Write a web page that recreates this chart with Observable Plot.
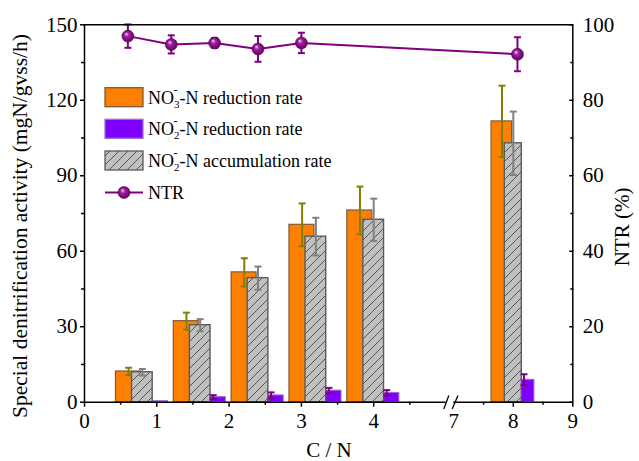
<!DOCTYPE html>
<html><head><meta charset="utf-8">
<script src="https://cdn.jsdelivr.net/npm/d3@7"></script>
<script src="https://cdn.jsdelivr.net/npm/@observablehq/plot@0.6"></script>
<style>
body{margin:0;background:#fff}
#chart{width:639px;height:461px}
</style>
</head><body><div id="chart"></div>
<script>
// ---- data ----
const groupX   = [0.8, 1.6, 2.4, 3.2, 4.0, 8.0];
const no3Rate  = [12.2, 32.2, 51.6, 70.5, 76.2, 111.6];
const no3Err   = [1.5, 3.4, 5.6, 8.5, 9.5, 14.2];
const accRate  = [11.9, 30.6, 49.3, 65.8, 72.5, 102.9];
const accErr   = [1.3, 2.4, 4.6, 7.5, 8.4, 12.6];
const no2Rate  = [0.4, 2.0, 2.7, 4.6, 3.7, 8.9];
const no2Err   = [0, 0.8, 1.2, 1.1, 1.1, 2.2];
const ntrX     = [0.6, 1.2, 1.8, 2.4, 3.0, 8.07];
const ntrVal   = [97.0, 94.8, 95.2, 93.6, 95.2, 92.2];
const ntrErr   = [3.1, 2.4, 1.3, 3.4, 2.7, 4.5];
const xTicks      = [0, 1, 2, 3, 4, 7, 8, 9];
const xTickMarks  = [0, 1, 2, 3, 4, 8, 9];
const xMinor      = [0.5, 1.5, 2.5, 3.5, 4.5, 7.5, 8.5];
const yTicks      = [0, 30, 60, 90, 120, 150];
const yMinor      = [15, 45, 75, 105, 135];
const ntrTicks    = [0, 20, 40, 60, 80, 100];
const ntrMinor    = [10, 30, 50, 70, 90];
const legendLabels = [
  {main: "NO", sub: "3", sup: "-", rest: "-N reduction rate"},
  {main: "NO", sub: "2", sup: "-", rest: "-N reduction rate"},
  {main: "NO", sub: "2", sup: "-", rest: "-N accumulation rate"},
  {main: "NTR"}
];
const xTitle = "C / N";
const yTitle = "Special denitrification activity (mgN/gvss/h)";
const y2Title = "NTR (%)";
const axisBreak = [[4.97, 5.72], [6.59, 7.07]];

// ---- style ----
const ORANGE = "#FF8000", VIOLET = "#8000FF", GRAYF = "#C0C0C0", NTRC = "#800080";
const K = 150 / 100;
const FONT = "Liberation Serif";

const rows = groupX.map((c, i) => ({c, no3: no3Rate[i], no3e: no3Err[i], acc: accRate[i], acce: accErr[i], no2: no2Rate[i], no2e: no2Err[i]}));
const ntrRows = ntrX.map((x, i) => ({x, v: ntrVal[i] * K, e: ntrErr[i] * K}));

const cap = {draw(ctx, size) { const r = Math.sqrt(size / Math.PI); ctx.moveTo(-r, 0); ctx.lineTo(r, 0); }};

function errBars(data, xf, vf, ef, color) {
  const d = data.filter(r => ef(r) > 0);
  return [
    Plot.ruleX(d, {x: xf, y1: r => vf(r) - ef(r), y2: r => vf(r) + ef(r), stroke: color, strokeWidth: 2}),
    Plot.dot(d, {x: xf, y: r => vf(r) - ef(r), symbol: cap, r: 3.5, stroke: color, strokeWidth: 2, fill: "none"}),
    Plot.dot(d, {x: xf, y: r => vf(r) + ef(r), symbol: cap, r: 3.5, stroke: color, strokeWidth: 2, fill: "none"})
  ];
}

const chart = Plot.plot({
  width: 639, height: 461,
  marginLeft: 84, marginRight: 66.7, marginTop: 24.3, marginBottom: 59.3,
  style: {fontFamily: FONT, fontSize: "21px", color: "#000", background: "#fff", overflow: "visible"},
  x: {type: "linear", domain: [0, 5, 7, 9], range: [84, 445.5, 453.3, 572.3]},
  y: {domain: [0, 150]},
  marks: [
    // bars
    Plot.rect(rows, {x1: d => d.c - 0.365, x2: d => d.c - 0.02, y1: 0, y2: "no3", fill: ORANGE, stroke: "#7d5a3c", strokeWidth: 1.2}),
    Plot.rect(rows, {x1: d => d.c + 0.02, x2: d => d.c + 0.355, y1: 0, y2: "no2", fill: VIOLET, stroke: "#9a70c8", strokeWidth: 1}),
    Plot.rect(rows, {x1: d => d.c - 0.143, x2: d => d.c + 0.143, y1: 0, y2: "acc", fill: "url(#hatchG)", stroke: "#5a5a5a", strokeWidth: 1.4}),
    ...errBars(rows, d => d.c - 0.19, d => d.no3, d => d.no3e, "#808000"),
    ...errBars(rows, d => d.c, d => d.acc, d => d.acce, "#808080"),
    ...errBars(rows, d => d.c + 0.18, d => d.no2, d => d.no2e, NTRC),
    // NTR
    Plot.line(ntrRows, {x: "x", y: "v", stroke: NTRC, strokeWidth: 2}),
    ...errBars(ntrRows, d => d.x, d => d.v, d => d.e, NTRC),
    Plot.dot(ntrRows, {x: "x", y: "v", r: 6, fill: "url(#sphereG)", stroke: "#5a005a", strokeWidth: 0.6}),
    // frame lines
    Plot.ruleX([0, 9], {stroke: "#000", strokeWidth: 1.5}),
    Plot.ruleY([150], {stroke: "#000", strokeWidth: 1.5}),
    Plot.ruleY([0], {x1: 0, x2: 5, stroke: "#000", strokeWidth: 1.5}),
    Plot.ruleY([0], {x1: 7, x2: 9, stroke: "#000", strokeWidth: 1.5}),
    Plot.link(axisBreak, {x1: d => d[0], x2: d => d[1], y1: -2.7, y2: 2.7, stroke: "#000", strokeWidth: 1.3}),
    // axes
    Plot.axisY({ticks: yTicks, anchor: "left", tickSize: 4, tickPadding: 3, fontSize: 21, strokeWidth: 1.5, label: null}),
    Plot.axisY({ticks: yMinor, anchor: "left", tickSize: 3, tickFormat: () => "", strokeWidth: 1.5, label: null}),
    Plot.axisY({ticks: ntrTicks.map(v => v * K), tickFormat: d => String(Math.round(d / K)), anchor: "right", tickSize: -4, tickPadding: 14, fontSize: 21, strokeWidth: 1.5, label: null}),
    Plot.axisY({ticks: ntrMinor.map(v => v * K), anchor: "right", tickSize: -3, tickFormat: () => "", strokeWidth: 1.5, label: null}),
    Plot.axisX({ticks: xTicks, anchor: "bottom", tickSize: 0, tickPadding: 11, fontSize: 21, label: null}),
    Plot.axisX({ticks: xTickMarks, anchor: "bottom", tickSize: 5, tickFormat: () => "", strokeWidth: 1.5, label: null}),
    Plot.axisX({ticks: xMinor, anchor: "bottom", tickSize: 3, tickFormat: () => "", strokeWidth: 1.5, label: null})
  ]
});

document.getElementById("chart").appendChild(chart);

// defs: hatch pattern and sphere gradient
const svg = d3.select(chart);
const defs = svg.insert("defs", ":first-child");
const pat = defs.append("pattern").attr("id", "hatchG").attr("patternUnits", "userSpaceOnUse").attr("width", 9).attr("height", 9);
pat.append("rect").attr("width", 9).attr("height", 9).attr("fill", GRAYF);
pat.append("path").attr("d", "M-2.25,2.25 l4.5,-4.5 M0,9 l9,-9 M6.75,11.25 l4.5,-4.5").attr("stroke", "#555").attr("stroke-width", 1);
const rg = defs.append("radialGradient").attr("id", "sphereG").attr("cx", "50%").attr("cy", "50%").attr("r", "55%").attr("fx", "35%").attr("fy", "30%");
rg.append("stop").attr("offset", "0%").attr("stop-color", "#f4d8f4");
rg.append("stop").attr("offset", "35%").attr("stop-color", "#a020a0");
rg.append("stop").attr("offset", "100%").attr("stop-color", "#5a005a");

// titles
svg.append("text").attr("transform", "translate(19,226) rotate(-90)").attr("text-anchor", "middle").attr("dy", "0.35em")
  .attr("font-family", FONT).attr("font-size", 21.5).attr("fill", "#000").text(yTitle);
svg.append("text").attr("transform", "translate(622,227) rotate(-90)").attr("text-anchor", "middle").attr("dy", "0.35em")
  .attr("font-family", FONT).attr("font-size", 21).attr("fill", "#000").text(y2Title);
svg.append("text").attr("x", 329).attr("y", 450).attr("text-anchor", "middle").attr("dy", "0.35em")
  .attr("font-family", FONT).attr("font-size", 21).attr("fill", "#000").text(xTitle);

// legend
const lg = svg.append("g").attr("font-family", FONT).attr("font-size", 18).attr("fill", "#000").attr("text-anchor", "start");
const rowsY = [97.2, 128.8, 160.5, 192.5];
const sw = [
  {fill: ORANGE, stroke: "#7d5a3c"},
  {fill: VIOLET, stroke: "#9a70c8"},
  {fill: "url(#hatchG)", stroke: "#5a5a5a"}
];
legendLabels.forEach((L, i) => {
  const cy = rowsY[i];
  if (i < 3) {
    lg.append("rect").attr("x", 105).attr("y", cy - 9.5).attr("width", 38).attr("height", 19)
      .attr("fill", sw[i].fill).attr("stroke", sw[i].stroke).attr("stroke-width", 1.3);
  } else {
    lg.append("line").attr("x1", 105).attr("x2", 143).attr("y1", cy).attr("y2", cy).attr("stroke", NTRC).attr("stroke-width", 2);
    lg.append("circle").attr("cx", 124).attr("cy", cy).attr("r", 6).attr("fill", "url(#sphereG)").attr("stroke", "#5a005a").attr("stroke-width", 0.6);
  }
  const t = lg.append("text").attr("x", 148).attr("y", cy + 6.5).attr("text-anchor", "start");
  t.append("tspan").text(L.main);
  if (L.sub) {
    t.append("tspan").attr("font-size", 11).attr("dy", 4).text(L.sub);
    t.append("tspan").attr("font-size", 12).attr("dx", -6).attr("dy", -14).text(L.sup);
    t.append("tspan").attr("dx", 2).attr("dy", 10).text(L.rest);
  }
});
</script>
</body></html>
